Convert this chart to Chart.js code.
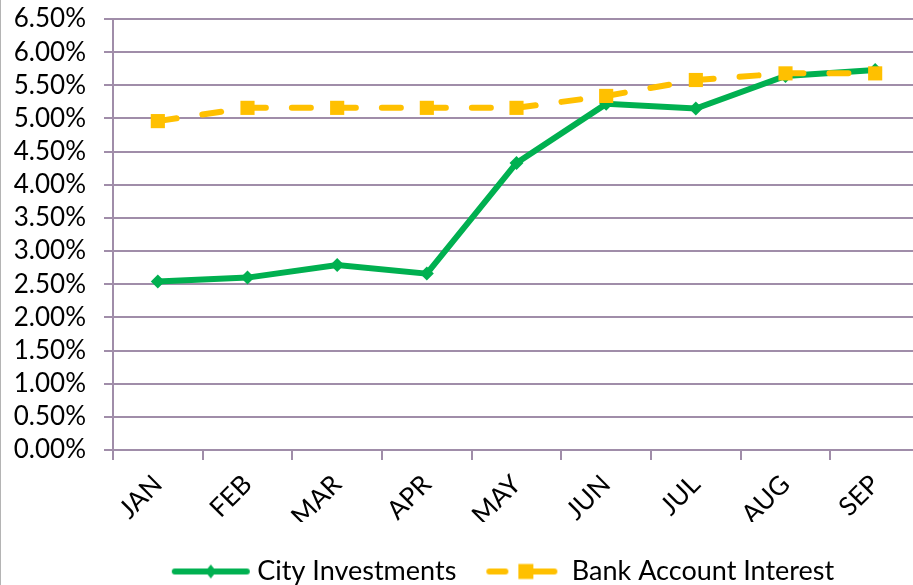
<!DOCTYPE html>
<html>
<head>
<meta charset="utf-8">
<script src="https://cdn.jsdelivr.net/npm/chart.js@4.4.1/dist/chart.umd.min.js"></script>
<style>
  html, body { margin: 0; padding: 0; background: #fff; overflow: hidden; }
  #wrap { position: relative; width: 930px; height: 585px; border-left: 1px solid #b4b4b4; box-sizing: border-box; }
  canvas { display: block; }
</style>
</head>
<body>
<div id="wrap"><canvas id="chart" width="929" height="585"></canvas></div>
<script>
// Data (percent)
const months = ['JAN', 'FEB', 'MAR', 'APR', 'MAY', 'JUN', 'JUL', 'AUG', 'SEP'];
const cityInvestments = [2.54, 2.60, 2.79, 2.66, 4.33, 5.22, 5.15, 5.64, 5.73];
const bankInterest = [4.96, 5.16, 5.16, 5.16, 5.16, 5.34, 5.58, 5.68, 5.68];

const GREEN = '#00B050';
const YELLOW = '#FFC000';
const GRID = '#A08DA9';
const FONT = 'Lato, "Open Sans", sans-serif';

// Legend sample images: line with marker, like the office legend
function makeSample(kind) {
    const c = document.createElement('canvas');
    c.width = 80; c.height = 20;
    const g = c.getContext('2d');
    g.lineWidth = 6;
    g.lineCap = 'round';
    if (kind === 'green') {
        g.strokeStyle = GREEN;
        g.beginPath(); g.moveTo(4, 10); g.lineTo(76, 10); g.stroke();
        g.fillStyle = GREEN;
        g.beginPath(); g.moveTo(40, 3); g.lineTo(45.5, 10); g.lineTo(40, 17); g.lineTo(34.5, 10); g.closePath(); g.fill();
    } else {
        g.strokeStyle = YELLOW;
        g.beginPath(); g.moveTo(4, 10); g.lineTo(20, 10); g.stroke();
        g.beginPath(); g.moveTo(48, 10); g.lineTo(69, 10); g.stroke();
        g.fillStyle = YELLOW;
        g.fillRect(33, 2.5, 15, 15);
    }
    return c;
}
const legendSamples = [makeSample('green'), makeSample('yellow')];

// nudge legend so it sits where the original one does
const shiftLegend = {
    id: 'shiftLegend',
    afterLayout(chart) {
        if (chart.legend) {
            chart.legend.left += 38;
            chart.legend.right += 38;
        }
    }
};

const ctx = document.getElementById('chart').getContext('2d');
new Chart(ctx, {
    type: 'line',
    data: {
        labels: months,
        datasets: [
            {
                label: 'City Investments',
                data: cityInvestments,
                borderColor: GREEN,
                backgroundColor: GREEN,
                borderWidth: 6,
                pointStyle: 'rectRot',
                pointRadius: 7,
                pointBorderWidth: 0,
                tension: 0,
                order: 1
            },
            {
                label: 'Bank Account Interest',
                data: bankInterest,
                borderColor: YELLOW,
                backgroundColor: YELLOW,
                borderWidth: 6,
                borderDash: [19, 26],
                borderCapStyle: 'round',
                pointStyle: 'rect',
                pointRadius: 10,
                pointBorderWidth: 0,
                tension: 0,
                order: 0
            }
        ]
    },
    options: {
        responsive: false,
        animation: false,
        devicePixelRatio: 1,
        layout: { padding: { top: 19, right: 7, bottom: -10, left: 12 } },
        scales: {
            x: {
                offset: true,
                afterFit: scale => { scale.height = 72; scale.paddingLeft = 0; scale.paddingRight = 0; },
                grid: {
                    offset: true,
                    drawOnChartArea: false,
                    drawTicks: true,
                    tickLength: 10,
                    color: GRID,
                    lineWidth: 2
                },
                border: { display: true, color: GRID, width: 2 },
                ticks: {
                    autoSkip: false,
                    color: '#000',
                    font: { family: FONT, size: 26 },
                    maxRotation: 45,
                    minRotation: 45,
                    padding: 9
                }
            },
            y: {
                min: 0,
                max: 6.5,
                afterFit: scale => { scale.width = 100; scale.paddingTop = 0; scale.paddingBottom = 0; },
                grid: {
                    color: GRID,
                    lineWidth: 2,
                    tickLength: 9
                },
                border: { display: true, color: GRID, width: 2 },
                ticks: {
                    autoSkip: false,
                    stepSize: 0.5,
                    color: '#000',
                    font: { family: FONT, size: 26 },
                    padding: 18,
                    callback: v => v.toFixed(2) + '%'
                }
            }
        },
        plugins: {
            tooltip: { enabled: false },
            legend: {
                position: 'bottom',
                labels: {
                    usePointStyle: true,
                    pointStyleWidth: 66,
                    padding: 36,
                    color: '#000',
                    font: { family: FONT, size: 27 },
                    sort: (a, b) => a.datasetIndex - b.datasetIndex,
                    generateLabels: function(chart) {
                        const items = Chart.defaults.plugins.legend.labels.generateLabels(chart);
                        items.forEach(item => { item.pointStyle = legendSamples[item.datasetIndex]; });
                        return items;
                    }
                }
            }
        }
    },
    plugins: [shiftLegend]
});
</script>
</body>
</html>
